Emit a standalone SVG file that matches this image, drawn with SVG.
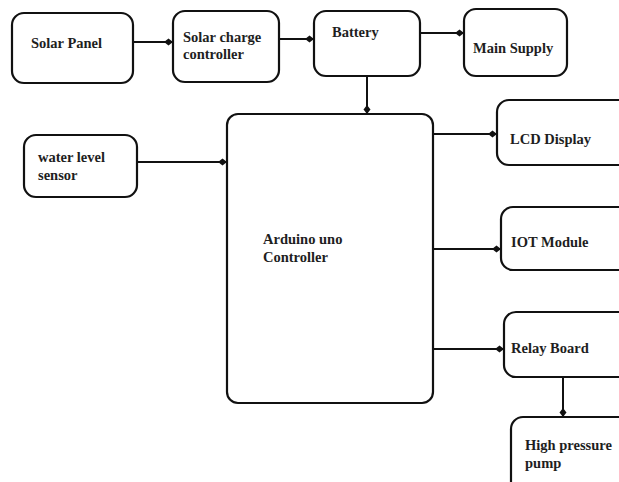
<svg xmlns="http://www.w3.org/2000/svg" width="619" height="482" viewBox="0 0 619 482">
<style>
.box{fill:#fff;stroke:#111;stroke-width:2.2}
.lbl{font-family:"Liberation Serif","Times New Roman",serif;font-weight:bold;font-size:14.5px;fill:#1e1e1e}
.con{fill:none;stroke:#111;stroke-width:2}
</style>
<defs>
<marker id="ah" markerWidth="10" markerHeight="8" refX="9" refY="4" orient="auto" markerUnits="userSpaceOnUse">
<path d="M0,4 L4.5,0.5 L9,4 L4.5,7.5 Z" fill="#111"/>
</marker>
</defs>
<rect width="619" height="482" fill="#fff"/>
<g id="connectors">
<path class="con" d="M133,42 H173" marker-end="url(#ah)"/>
<path class="con" d="M279,39 H314" marker-end="url(#ah)"/>
<path class="con" d="M420,33 H464" marker-end="url(#ah)"/>
<path class="con" d="M367,76 V114" marker-end="url(#ah)"/>
<path class="con" d="M137,162 H227" marker-end="url(#ah)"/>
<path class="con" d="M433,134 H497" marker-end="url(#ah)"/>
<path class="con" d="M433,249 H501" marker-end="url(#ah)"/>
<path class="con" d="M433,349 H504" marker-end="url(#ah)"/>
<path class="con" d="M563,377 V417" marker-end="url(#ah)"/>
</g>
<g id="solar-panel">
<rect class="box" x="12" y="13" width="121" height="70" rx="12"/>
<text class="lbl" x="31" y="48">Solar Panel</text>
</g>
<g id="charge-controller">
<rect class="box" x="173" y="11" width="106" height="71" rx="12"/>
<text class="lbl" x="183" y="42">Solar charge</text>
<text class="lbl" x="183" y="59">controller</text>
</g>
<g id="battery">
<rect class="box" x="314" y="11" width="106" height="65" rx="12"/>
<text class="lbl" x="332" y="37">Battery</text>
</g>
<g id="main-supply">
<rect class="box" x="464" y="9" width="103" height="67" rx="12"/>
<text class="lbl" x="473" y="53">Main Supply</text>
</g>
<g id="water-sensor">
<rect class="box" x="24" y="135" width="113" height="62" rx="12"/>
<text class="lbl" x="38" y="162">water level</text>
<text class="lbl" x="38" y="180">sensor</text>
</g>
<g id="arduino">
<rect class="box" x="227" y="114" width="206" height="289" rx="11"/>
<text class="lbl" x="263" y="244">Arduino uno</text>
<text class="lbl" x="263" y="262">Controller</text>
</g>
<g id="lcd">
<rect class="box" x="497" y="100" width="135" height="65" rx="12"/>
<text class="lbl" x="510" y="144">LCD Display</text>
</g>
<g id="iot">
<rect class="box" x="501" y="207" width="131" height="63" rx="12"/>
<text class="lbl" x="511" y="247">IOT Module</text>
</g>
<g id="relay">
<rect class="box" x="504" y="312" width="128" height="65" rx="12"/>
<text class="lbl" x="511" y="353">Relay Board</text>
</g>
<g id="pump">
<rect class="box" x="511" y="417" width="121" height="80" rx="12"/>
<text class="lbl" x="525" y="450">High pressure</text>
<text class="lbl" x="525" y="468">pump</text>
</g>
</svg>
